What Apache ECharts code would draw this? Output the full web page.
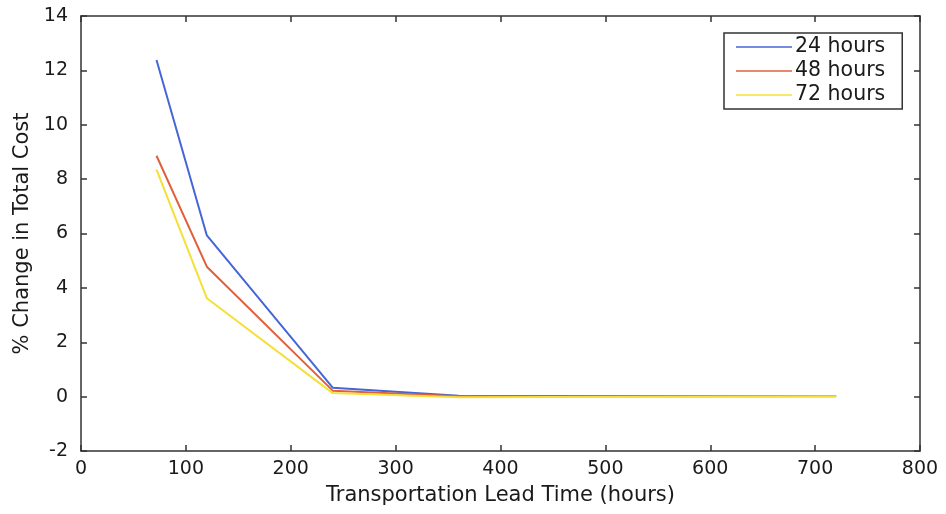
<!DOCTYPE html>
<html><head><meta charset="utf-8">
<script src="https://cdn.jsdelivr.net/npm/echarts@6/dist/echarts.min.js"></script>
<style>html,body{margin:0;padding:0;background:#fff}#c{width:946px;height:514px}</style>
</head><body><div id="c"></div>
<script>
const leadTimes = [72, 120, 240, 360, 720];
const series24 = [12.38, 5.93, 0.33, 0.03, 0.02];
const series48 = [8.86, 4.78, 0.22, 0.01, 0.01];
const series72 = [8.35, 3.62, 0.13, -0.02, 0.01];
const seriesNames = ['24 hours', '48 hours', '72 hours'];
const xTicks = [0, 800, 100];
const yTicks = [-2, 14, 2];

const font = 'DejaVu Sans, sans-serif';
const axisCol = '#333';
function pairs(v){ return leadTimes.map((x,i)=>[x,v[i]]); }
const chart = echarts.init(document.getElementById('c'));
const baseX = {type:'value', min:xTicks[0], max:xTicks[1], interval:xTicks[2],
  axisLine:{show:true,onZero:false,lineStyle:{color:axisCol,width:1.5}},
  axisTick:{show:true,inside:true,length:6,lineStyle:{color:axisCol,width:1.5}},
  splitLine:{show:false}};
const baseY = {type:'value', min:yTicks[0], max:yTicks[1], interval:yTicks[2],
  axisLine:{show:true,onZero:false,lineStyle:{color:axisCol,width:1.5}},
  axisTick:{show:true,inside:true,length:6,lineStyle:{color:axisCol,width:1.5}},
  splitLine:{show:false}};
chart.setOption({
  animation:false,
  backgroundColor:'#fff',
  grid:{left:81, right:26, top:16, bottom:63, outerBoundsMode:'none', containLabel:false},
  legend:{
    data: seriesNames, orient:'vertical', left:724, top:33,
    icon:'rect', itemWidth:56, itemHeight:1.5, itemGap:2,
    padding:[3,17,3,12], borderColor:'#333', borderWidth:1.5,
    backgroundColor:'#fff',
    textStyle:{fontFamily:font, fontSize:20.5, lineHeight:22, color:'#1a1a1a', padding:[0,0,0,-2]}
  },
  xAxis:[
    Object.assign({}, baseX, {position:'bottom',
      name:'Transportation Lead Time (hours)', nameLocation:'middle', nameGap:34,
      nameTextStyle:{fontFamily:font, fontSize:21, color:'#1a1a1a'},
      axisLabel:{fontFamily:font, fontSize:19, color:'#1a1a1a', margin:9}}),
    Object.assign({}, baseX, {position:'top', axisLabel:{show:false}})
  ],
  yAxis:[
    Object.assign({}, baseY, {position:'left',
      name:'% Change in Total Cost', nameLocation:'middle', nameGap:47,
      nameTextStyle:{fontFamily:font, fontSize:21, color:'#1a1a1a'},
      axisLabel:{fontFamily:font, fontSize:19, color:'#1a1a1a', margin:13}}),
    Object.assign({}, baseY, {position:'right', axisLabel:{show:false}})
  ],
  series:[
    {name:seriesNames[0], type:'line', data:pairs(series24), symbol:'none',
      lineStyle:{color:'#4566d6', width:2}, itemStyle:{color:'#4566d6'}},
    {name:seriesNames[1], type:'line', data:pairs(series48), symbol:'none',
      lineStyle:{color:'#e0603c', width:2}, itemStyle:{color:'#e0603c'}},
    {name:seriesNames[2], type:'line', data:pairs(series72), symbol:'none',
      lineStyle:{color:'#f4e036', width:2}, itemStyle:{color:'#f4e036'}}
  ]
});
</script></body></html>
